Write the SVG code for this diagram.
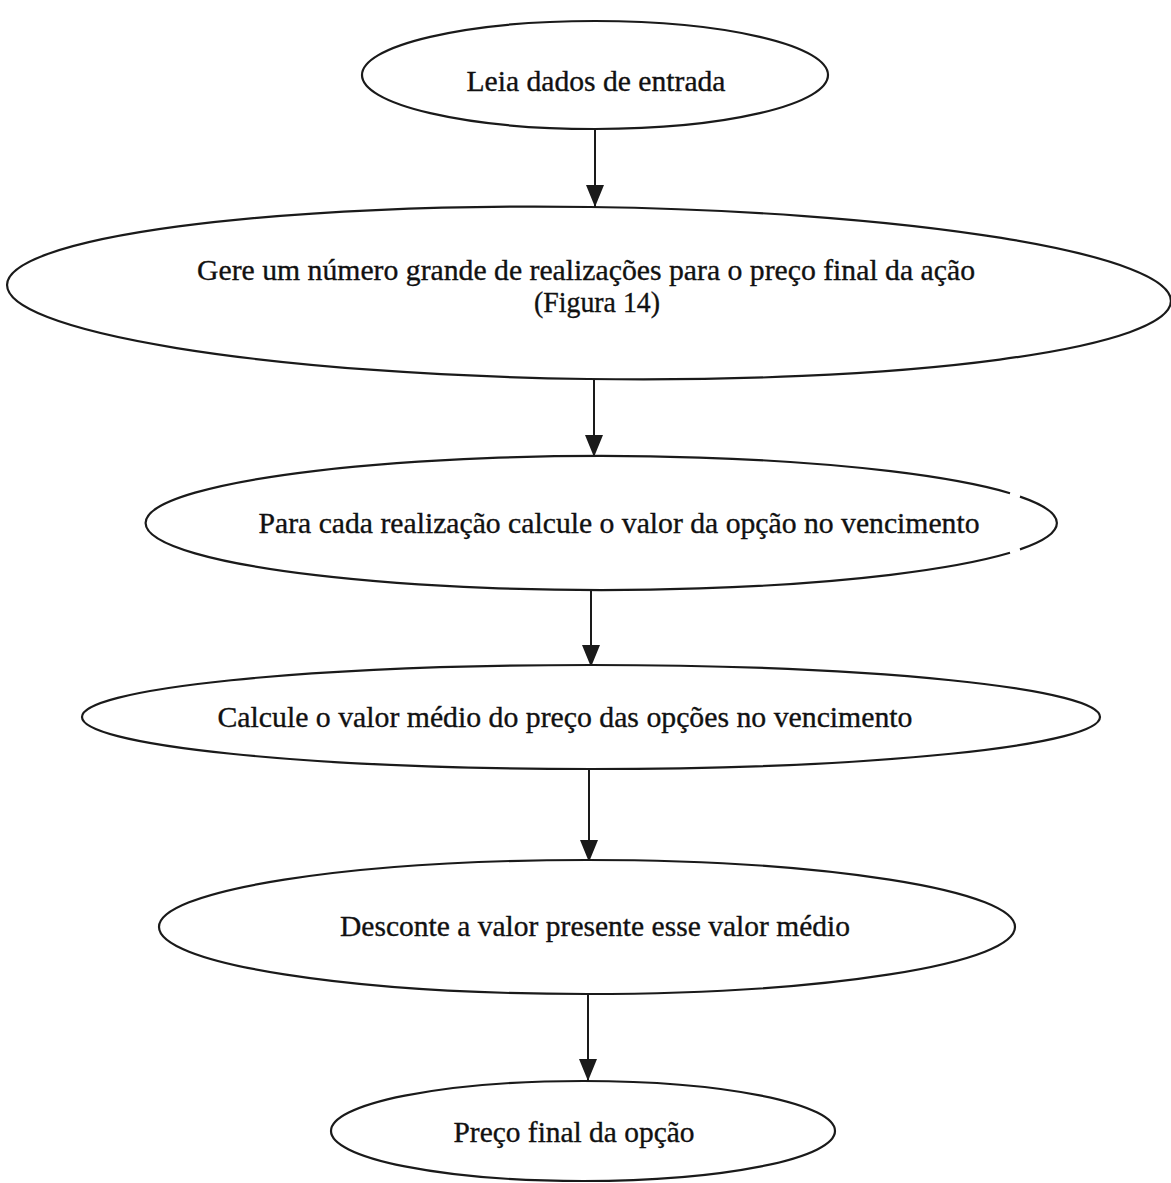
<svg xmlns="http://www.w3.org/2000/svg" width="1171" height="1183" viewBox="0 0 1171 1183">
<style>
  .node { fill: #ffffff; stroke: #1a1a1a; stroke-width: 2.2; }
  .lbl { font-family: "Liberation Serif", "Times New Roman", serif; font-size: 30px; fill: #111111; stroke: #111111; stroke-width: 0.35; text-anchor: middle; }
  .edge { stroke: #1a1a1a; stroke-width: 2; fill: none; marker-end: url(#arrow); }
</style>
<defs>
  <marker id="arrow" markerUnits="userSpaceOnUse" markerWidth="22" markerHeight="18" refX="22" refY="9" orient="auto">
    <path d="M0,0 L22,9 L0,18 Z" fill="#1a1a1a"/>
  </marker>
</defs>
<rect width="1171" height="1183" fill="#ffffff"/>
<g id="connectors">
  <line class="edge" x1="595" y1="128" x2="595" y2="207"/>
  <line class="edge" x1="594" y1="379" x2="594" y2="457"/>
  <line class="edge" x1="591" y1="591" x2="591" y2="667"/>
  <line class="edge" x1="589" y1="769" x2="589" y2="862"/>
  <line class="edge" x1="588" y1="995" x2="588" y2="1081"/>
</g>
<g id="n1">
  <ellipse class="node" cx="595" cy="75" rx="233" ry="54"/>
  <text class="lbl" x="596" y="91" textLength="259" lengthAdjust="spacingAndGlyphs">Leia dados de entrada</text>
</g>
<g id="n2">
  <ellipse class="node" cx="589" cy="293" rx="582" ry="86" transform="rotate(0.8 589 293)"/>
  <text class="lbl" x="586" y="280" textLength="778" lengthAdjust="spacingAndGlyphs">Gere um número grande de realizações para o preço final da ação</text>
  <text class="lbl" x="597" y="312" textLength="126" lengthAdjust="spacingAndGlyphs">(Figura 14)</text>
</g>
<g id="n3">
  <path class="node" d="M1010,493.2 A456,67 0 1 0 1010,552.8"/>
  <path class="node" d="M1020,496.6 A456,67 0 0 1 1020,549.4" fill="none"/>
  <text class="lbl" x="619" y="533" textLength="721" lengthAdjust="spacingAndGlyphs">Para cada realização calcule o valor da opção no vencimento</text>
</g>
<g id="n4">
  <ellipse class="node" cx="591" cy="717" rx="509" ry="52"/>
  <text class="lbl" x="565" y="727" textLength="695" lengthAdjust="spacingAndGlyphs">Calcule o valor médio do preço das opções no vencimento</text>
</g>
<g id="n5">
  <ellipse class="node" cx="587" cy="927" rx="428" ry="67"/>
  <text class="lbl" x="595" y="936" textLength="510" lengthAdjust="spacingAndGlyphs">Desconte a valor presente esse valor médio</text>
</g>
<g id="n6">
  <ellipse class="node" cx="583" cy="1131" rx="252" ry="50"/>
  <text class="lbl" x="574" y="1142" textLength="241" lengthAdjust="spacingAndGlyphs">Preço final da opção</text>
</g>
</svg>
